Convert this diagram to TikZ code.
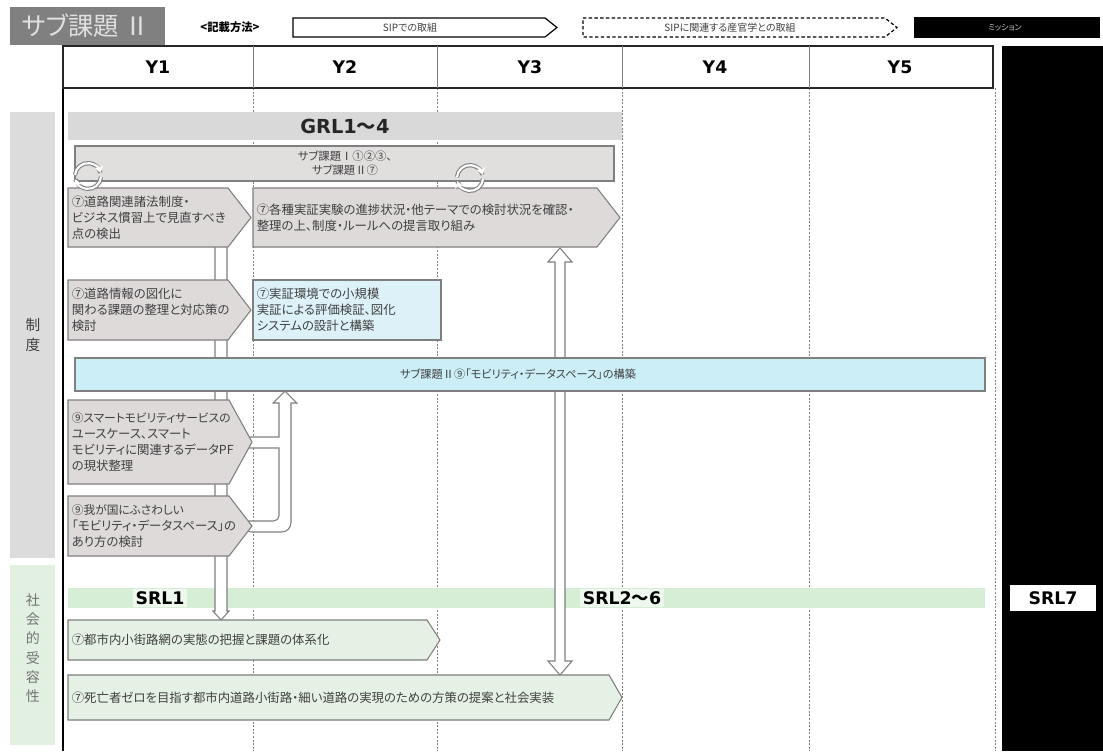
\documentclass[tikz,border=0pt]{standalone}
\usepackage{fontspec}
\setmainfont{Noto Sans CJK JP}[RawFeature=+palt]
\newfontfamily\latinb{DejaVu Sans}
\usetikzlibrary{arrows.meta,calc}
\definecolor{boxgray}{HTML}{DEDADA}
\definecolor{edgegray}{HTML}{7F7F7F}
\definecolor{bandgray}{HTML}{D9D9D9}
\definecolor{lightblue}{HTML}{DDF1F8}
\definecolor{bandblue}{HTML}{CCEEF7}
\definecolor{boxgreen}{HTML}{E4F1E4}
\definecolor{bandgreen}{HTML}{D6EDD6}
\definecolor{sidegray}{HTML}{DCDCDC}
\definecolor{sidegreen}{HTML}{E2F0E2}
\definecolor{titlegray}{HTML}{808080}
\definecolor{txt}{HTML}{404040}
\newcommand\smallbox{\fontsize{8.8}{11.5}\selectfont}
\tikzset{
  boxtext/.style={font=\fontsize{9.3}{12}\selectfont, align=left, inner sep=1pt, text=txt},
  graybox/.style={fill=boxgray, draw=edgegray, line width=0.8pt},
  greenbox/.style={fill=boxgreen, draw=edgegray, line width=0.8pt},
  hollow/.style={fill=white, draw=edgegray, line width=0.8pt},
  coldiv/.style={draw=edgegray, line width=0.6pt, dash pattern=on 1.5pt off 1.2pt},
  yhead/.style={font=\latinb\bfseries\fontsize{13}{15}\selectfont},
  srl/.style={font=\latinb\bfseries\fontsize{13}{15}\selectfont, inner sep=2pt}
}
% name, style, x1, y1, x2(tip), y2, depth, text
\newcommand\sigbox[8]{%
  \path[#2] (#3,#4) -- ({#5-#7},#4) -- (#5,{(#4+#6)/2}) -- ({#5-#7},#6) -- (#3,#6) -- cycle;
  \node[boxtext, anchor=west] (#1) at ({#3+2},{(#4+#6)/2}) {#8};
  \coordinate (#1-tip) at (#5,{(#4+#6)/2});
}
\newcommand\cycicon[2]{%
  \draw[edgegray, line width=3.2pt] ({#1+13},{#2+1}) arc (5:165:13);
  \draw[white, line width=1.6pt, -{Stealth[length=5pt,width=7pt]}] ({#1+13},{#2+1}) arc (5:165:13);
  \draw[edgegray, line width=3.2pt] ({#1-13},{#2-1}) arc (185:345:13);
  \draw[white, line width=1.6pt, -{Stealth[length=5pt,width=7pt]}] ({#1-13},{#2-1}) arc (185:345:13);
}
\begin{document}
\begin{tikzpicture}[x=0.75pt,y=-0.75pt,line width=0.75pt]
\useasboundingbox (0,0) rectangle (1103,751);
\fill[white] (0,0) rectangle (1103,751);

% ---- legend row ----
\path[fill=titlegray] (10,7) rectangle (165,45);
\node[text=white!88!black, font=\fontsize{19}{21}\selectfont] (title) at (86,26) {サブ課題 Ⅱ};
\node[font=\bfseries\fontsize{8.5}{10}\selectfont] (howto) at (230,27) {<記載方法>};
\path[fill=white, draw=black, line width=0.9pt] (293,18) -- (545,18) -- (557,27.5) -- (545,37) -- (293,37) -- cycle;
\node[font=\fontsize{7.5}{9}\selectfont, text=txt] (leg1) at (410,27.5) {SIPでの取組};
\path[draw=black, line width=0.9pt, dash pattern=on 2.5pt off 1.8pt] (583,18) -- (885,18) -- (897,27.5) -- (885,37) -- (583,37) -- cycle;
\node[font=\fontsize{7.5}{9}\selectfont, text=txt] (leg2) at (730,27.5) {SIPに関連する産官学との取組};
\path[fill=black] (914,17) rectangle (1100,38);
\node[font=\fontsize{6}{8}\selectfont, text=white!80!black] (mission) at (1005,27.5) {ミッション};

% ---- black mission column ----
\path[fill=black] (1002,46) rectangle (1103,751);

% ---- side labels ----
\path[fill=sidegray] (10,112) rectangle (55,558);
\node[align=center, font=\fontsize{11}{15}\selectfont, text=txt] (seido) at (33,335) {制\\度};
\path[fill=sidegreen] (10,565) rectangle (55,745);
\node[align=center, font=\fontsize{10.5}{14.5}\selectfont, text=black!55] (shakai) at (33,648) {社\\会\\的\\受\\容\\性};

% ---- table ----
\draw[black, line width=0.9pt] (63,88) -- (63,751);
\foreach \xx in {253,437,622,809,995} \draw[coldiv] (\xx,88) -- (\xx,751);
\path[fill=white, draw=black!85, line width=1.2pt] (63,46) rectangle (993,88);
\foreach \xx in {253,437,622,809} \draw[edgegray, line width=0.6pt] (\xx,46) -- (\xx,88);
\node[yhead] (y1) at (158,67) {Y1};
\node[yhead] (y2) at (345,67) {Y2};
\node[yhead] (y3) at (530,67) {Y3};
\node[yhead] (y4) at (715,67) {Y4};
\node[yhead] (y5) at (900,67) {Y5};

% ---- GRL band ----
\path[fill=bandgray] (68,112) rectangle (622,140);
\node[font=\latinb\bfseries\fontsize{14.5}{16}\selectfont, text=black!85] (grl) at (345,126) {GRL1{\normalfont\bfseries 〜}4};

% ---- SRL band ----
\path[fill=bandgreen] (68,588) rectangle (985,608);
\node[srl, fill=white!60!bandgreen] (srl1) at (160,598) {SRL1};
\node[srl, fill=white!60!bandgreen] (srl26) at (622,598) {SRL2{\normalfont\bfseries 〜}6};
\node[srl, fill=white, minimum width=64pt, minimum height=19pt] (srl7) at (1053,598) {SRL7};

% ---- sub-task I box ----
\path[fill=boxgray!90!white, draw=edgegray, line width=0.8pt] (75,146) rectangle (614,181);
\node[align=center, font=\fontsize{8.5}{11}\selectfont, text=txt] (sub1) at (345,163) {サブ課題Ⅰ①②③、\\サブ課題Ⅱ⑦};

% ---- hollow connectors (behind boxes) ----
\coordinate (a1) at (221,240);
\coordinate (a8) at (221,620);
\draw[hollow] ($(a1)+(-6,0)$) -- ($(a8)+(-6,-9)$) -- ++(-2,0) -- (a8) -- ++(8,-9) -- ++(-2,0) -- ($(a1)+(6,0)$) -- cycle;

\coordinate (c2) at (560,248);
\coordinate (c9) at (560,675);
\draw[hollow] (c2) -- ++(12,14) -- ++(-7,0) -- ($(c9)+(5,-14)$) -- ++(7,0) -- (c9) -- ++(-12,-14) -- ++(7,0) -- ($(c2)+(-5,14)$) -- ++(-7,0) -- cycle;

% ---- boxes ----
\sigbox{b1}{graybox}{68}{188}{251}{247}{23}{⑦道路関連諸法制度・\\ビジネス慣習上で見直すべき\\点の検出}
\sigbox{b2}{graybox}{253}{188}{620}{247}{23}{⑦各種実証実験の進捗状況・他テーマでの検討状況を確認・\\整理の上、制度・ルールへの提言取り組み}
\sigbox{b3}{graybox}{68}{280}{251}{340}{23}{⑦道路情報の図化に\\関わる課題の整理と対応策の\\検討}
\path[fill=lightblue, draw=edgegray, line width=0.8pt] (253,280) rectangle (441,340);
\node[boxtext, anchor=west] (b4) at (255,310) {⑦実証環境での小規模\\実証による評価検証、図化\\システムの設計と構築};

% arrow from the two (9) boxes up into the data space band
\coordinate (bB) at (285,391);
\coordinate (b6t) at (252,442);
\coordinate (b7t) at (252,526);
\draw[hollow] ($(b6t)+(-10,-5)$) -- (279,437) -- (279,403) -- (273,403) -- (bB) -- (297,403) -- (291,403)
  [rounded corners=7] -- (291,532) -- ($(b7t)+(-10,6)$) [sharp corners] -- ($(b7t)+(-10,-5)$)
  [rounded corners=4] -- (279,521) [sharp corners] -- (279,448) -- ($(b6t)+(-10,6)$) -- cycle;

\path[fill=bandblue, draw=edgegray, line width=0.8pt] (75,358) rectangle (985,391);
\node[font=\fontsize{8.4}{10}\selectfont, text=txt] (b5) at (518,374.5) {サブ課題Ⅱ⑨「モビリティ・データスペース」の構築};

\sigbox{b6}{graybox}{68}{400}{252}{484}{23}{\smallbox ⑨スマートモビリティサービスの\\ユースケース、スマート\\モビリティに関連するデータPF\\の現状整理}
\sigbox{b7}{graybox}{68}{496}{252}{556}{23}{\smallbox ⑨我が国にふさわしい\\「モビリティ・データスペース」の\\あり方の検討}

\sigbox{b8}{greenbox}{68}{620}{440}{660}{13}{⑦都市内小街路網の実態の把握と課題の体系化}
\sigbox{b9}{greenbox}{68}{675}{622}{720}{13}{⑦死亡者ゼロを目指す都市内道路小街路・細い道路の実現のための方策の提案と社会実装}

% ---- cycle icons ----
\cycicon{88}{176}
\cycicon{470}{178}
\end{tikzpicture}
\end{document}
